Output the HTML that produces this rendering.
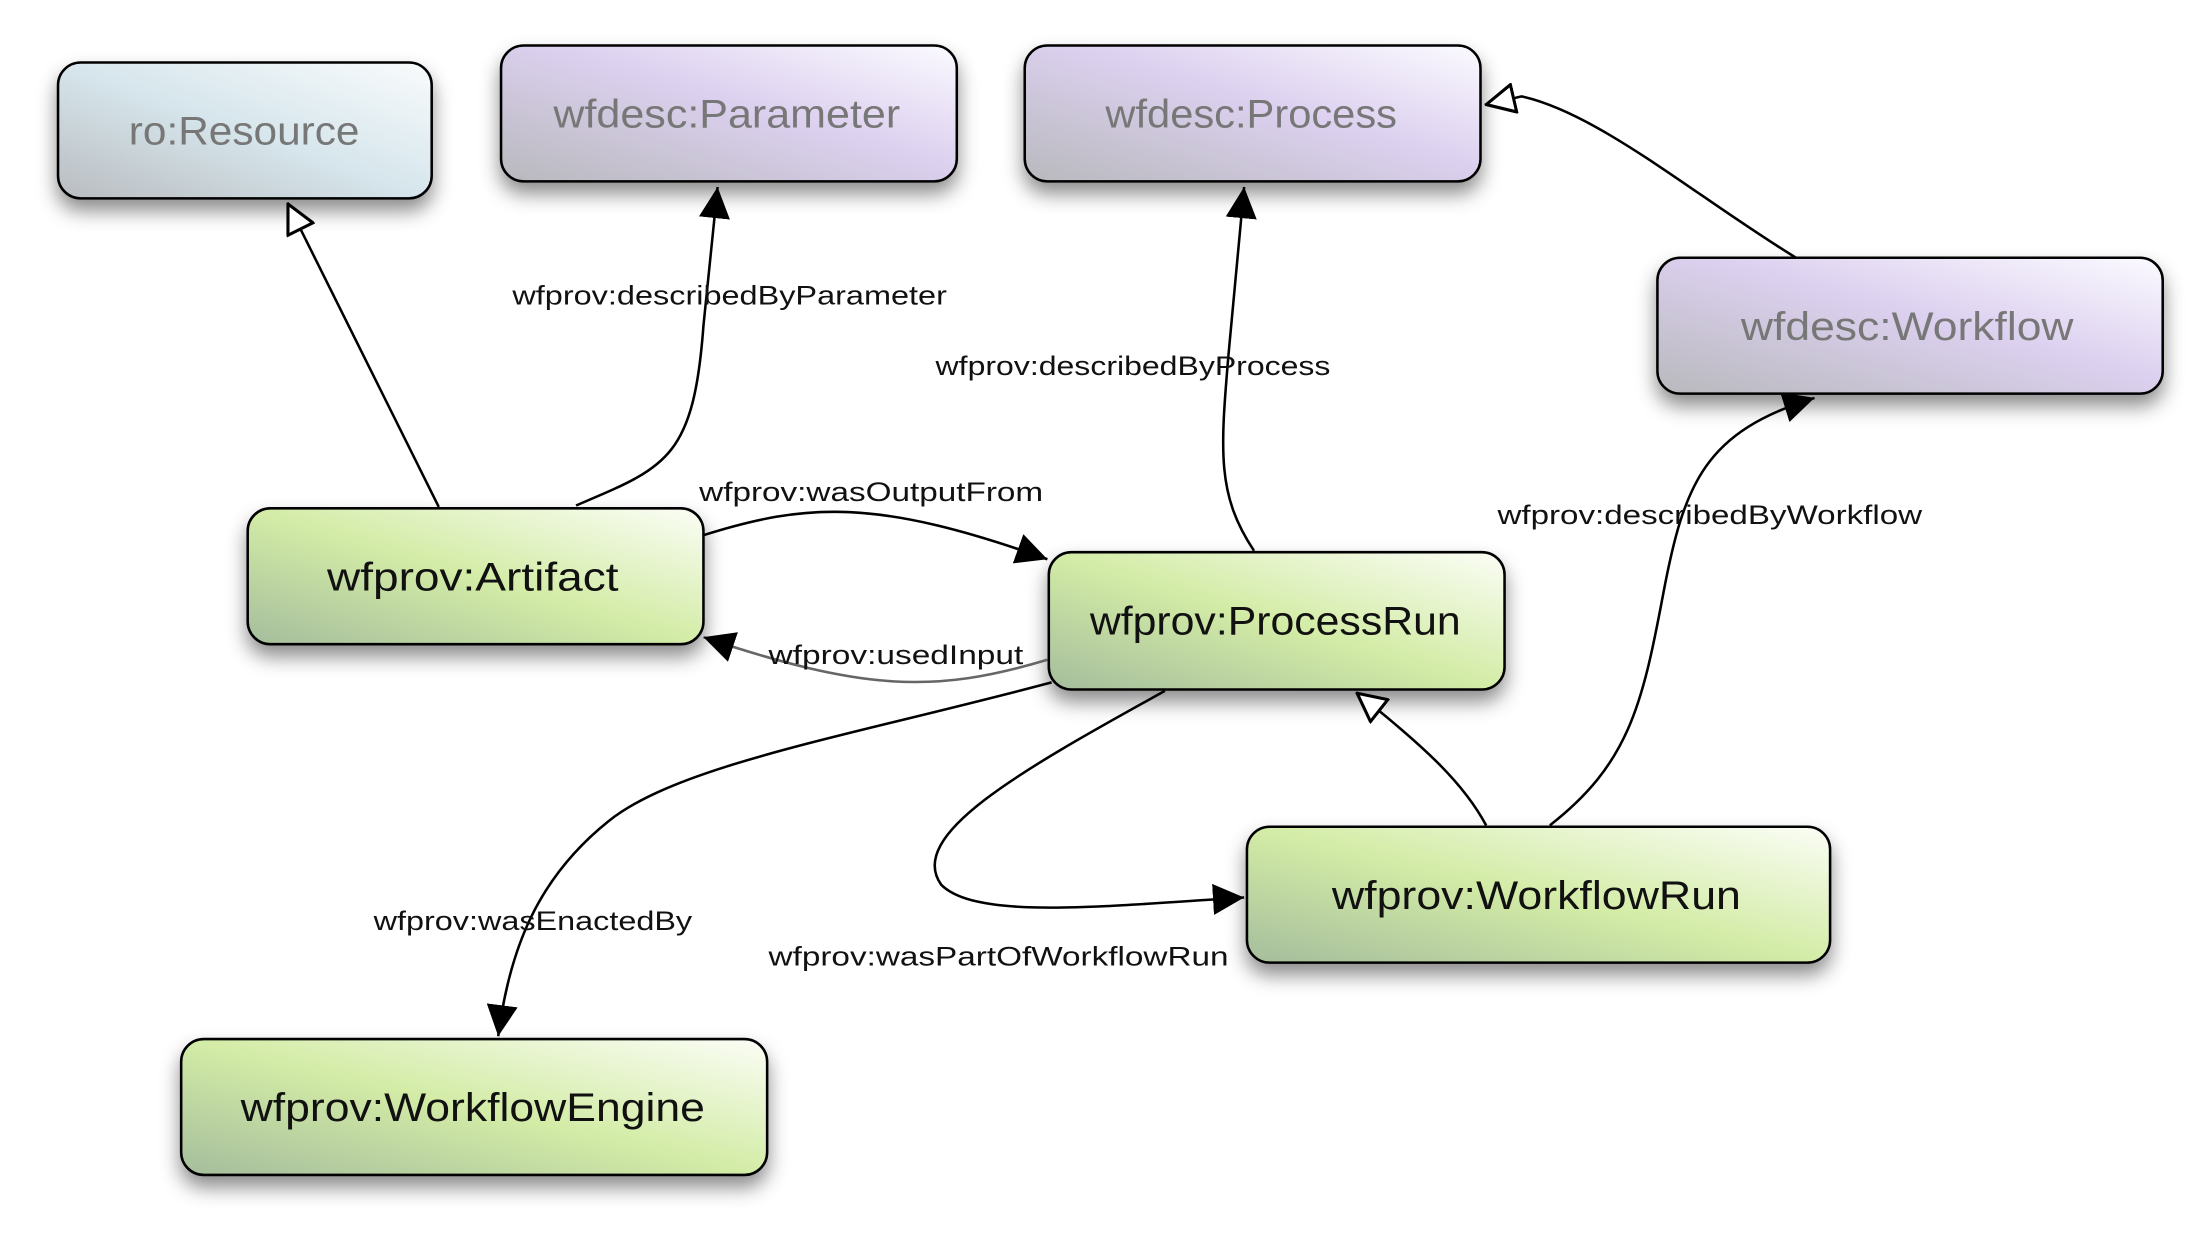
<!DOCTYPE html>
<html><head><meta charset="utf-8"><style>html,body{margin:0;padding:0;background:#fff}svg{display:block}</style></head>
<body>
<svg width="2208" height="1236" viewBox="0 0 1560 873" xmlns="http://www.w3.org/2000/svg" font-family="'Liberation Sans', sans-serif">
<defs>
<linearGradient id="g" x1="0" y1="1" x2="1" y2="0"><stop offset="0" stop-color="#a5bd9c"/><stop offset="0.5" stop-color="#d3eca6"/><stop offset="1" stop-color="#fbfdf6"/></linearGradient>
<linearGradient id="p" x1="0" y1="1" x2="1" y2="0"><stop offset="0" stop-color="#b8b9bd"/><stop offset="0.55" stop-color="#dcd0ef"/><stop offset="1" stop-color="#fbfaff"/></linearGradient>
<linearGradient id="b" x1="0" y1="1" x2="1" y2="0"><stop offset="0" stop-color="#b9bcc0"/><stop offset="0.5" stop-color="#d6e6ec"/><stop offset="1" stop-color="#f9fbfc"/></linearGradient>
<filter id="sh" x="-20%" y="-20%" width="140%" height="160%"><feDropShadow dx="0" dy="8" stdDeviation="7" flood-color="#000" flood-opacity="0.45"/></filter>
<marker id="fa" viewBox="0 0 10 10" refX="10" refY="5" markerWidth="22" markerHeight="22" markerUnits="userSpaceOnUse" orient="auto"><path d="M0,0 L10,5 L0,10 z" fill="#000"/></marker>
<marker id="ha" viewBox="0 0 10 10" refX="10" refY="5" markerWidth="22" markerHeight="22" markerUnits="userSpaceOnUse" orient="auto"><path d="M0.5,0.5 L9.5,5 L0.5,9.5 z" fill="#fff" stroke="#000" stroke-width="1"/></marker>
</defs>
<g stroke="#000" stroke-width="1.8" fill="url(#b)" filter="url(#sh)">
<rect x="41" y="44" width="264" height="96" rx="16" fill="url(#b)"/>
<rect x="354" y="32" width="322" height="96" rx="16" fill="url(#p)"/>
<rect x="724" y="32" width="322" height="96" rx="16" fill="url(#p)"/>
<rect x="1171" y="182" width="357" height="96" rx="16" fill="url(#p)"/>
<rect x="175" y="359" width="322" height="96" rx="16" fill="url(#g)"/>
<rect x="741" y="390" width="322" height="97" rx="16" fill="url(#g)"/>
<rect x="881" y="584" width="412" height="96" rx="16" fill="url(#g)"/>
<rect x="128" y="734" width="414" height="96" rx="16" fill="url(#g)"/>
</g>
<g font-size="28" text-anchor="start" lengthAdjust="spacingAndGlyphs">
<text x="91" y="102" fill="#777" textLength="163" lengthAdjust="spacingAndGlyphs">ro:Resource</text>
<text x="391" y="90" fill="#777" textLength="245" lengthAdjust="spacingAndGlyphs">wfdesc:Parameter</text>
<text x="781" y="90" fill="#777" textLength="206" lengthAdjust="spacingAndGlyphs">wfdesc:Process</text>
<text x="1230" y="240" fill="#777" textLength="235" lengthAdjust="spacingAndGlyphs">wfdesc:Workflow</text>
<text x="231" y="417" fill="#111" textLength="206" lengthAdjust="spacingAndGlyphs">wfprov:Artifact</text>
<text x="770" y="448" fill="#111" textLength="262" lengthAdjust="spacingAndGlyphs">wfprov:ProcessRun</text>
<text x="941" y="642" fill="#111" textLength="289" lengthAdjust="spacingAndGlyphs">wfprov:WorkflowRun</text>
<text x="170" y="792" fill="#111" textLength="328" lengthAdjust="spacingAndGlyphs">wfprov:WorkflowEngine</text>
</g>
<g fill="none" stroke="#000" stroke-width="1.8">
<path d="M310,358 L203,143" marker-end="url(#ha)"/>
<path d="M407,357 C470,330 490,325 497,230 L507,132" marker-end="url(#fa)"/>
<path d="M497,378 C570,355 620,352 740,395" marker-end="url(#fa)"/>
<path d="M740,466 C660,490 610,488 497,450" stroke="#666" marker-end="url(#fa)"/>
<path d="M886,389 C860,350 862,320 868,250 L879,132" marker-end="url(#fa)"/>
<path d="M1269,182 C1200,140 1130,80 1075,68 L1049,74" marker-end="url(#ha)"/>
<path d="M1050,583 C1035,555 1010,530 958,489" marker-end="url(#ha)"/>
<path d="M1095,583 C1150,540 1160,500 1175,420 C1190,340 1205,305 1282,281" marker-end="url(#fa)"/>
<path d="M823,488 C720,545 640,590 665,625 C690,650 780,640 879,634" marker-end="url(#fa)"/>
<path d="M743,482 C600,520 480,540 430,580 C380,620 360,670 352,732" marker-end="url(#fa)"/>
</g>
<g font-size="19" fill="#111">
<rect x="540" y="451" width="186" height="22" fill="#fff" opacity="0"/>
<text x="362" y="215" textLength="307" lengthAdjust="spacingAndGlyphs">wfprov:describedByParameter</text>
<text x="494" y="354" textLength="243" lengthAdjust="spacingAndGlyphs">wfprov:wasOutputFrom</text>
<text x="543" y="469" textLength="180" lengthAdjust="spacingAndGlyphs">wfprov:usedInput</text>
<text x="661" y="265" textLength="279" lengthAdjust="spacingAndGlyphs">wfprov:describedByProcess</text>
<text x="1058" y="370" textLength="300" lengthAdjust="spacingAndGlyphs">wfprov:describedByWorkflow</text>
<text x="264" y="657" textLength="225" lengthAdjust="spacingAndGlyphs">wfprov:wasEnactedBy</text>
<text x="543" y="682" textLength="325" lengthAdjust="spacingAndGlyphs">wfprov:wasPartOfWorkflowRun</text>
</g>
</svg>
</body></html>
